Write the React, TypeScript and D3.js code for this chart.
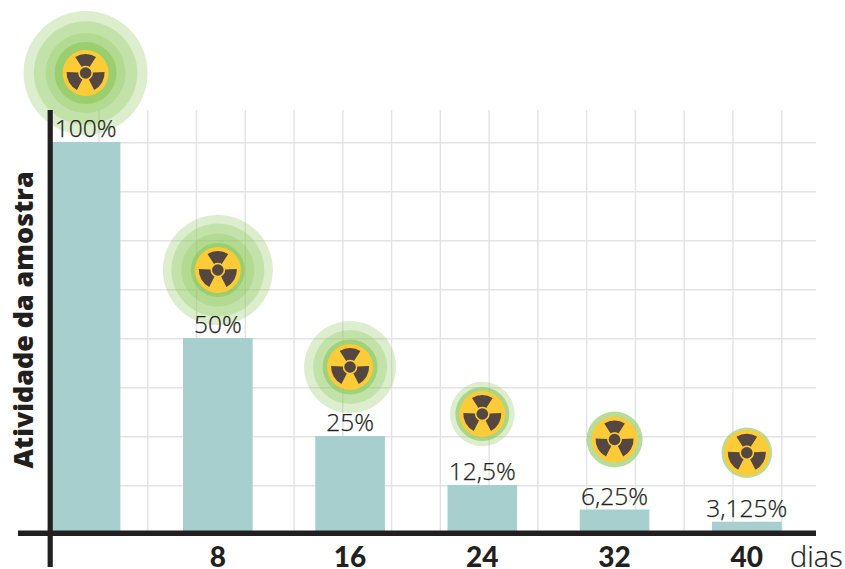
import React from "react";
import * as d3 from "d3";

const days = [0, 8, 16, 24, 32, 40];
const activity = [100, 50, 25, 12.5, 6.25, 3.125];
const valueLabels = ["100%", "50%", "25%", "12,5%", "6,25%", "3,125%"];
const dayLabels = ["", "8", "16", "24", "32", "40"];
const glowLift = [69, 68, 69, 71, 70, 69];
const glowRings = [
  [62, 51.7, 40, 31],
  [55, 46.5, 36.5, 27],
  [46, 37, 27.5],
  [32.3, 27],
  [28],
  [25.3],
];
const gridValues = d3.range(1, 9).map((k) => k * 12.5);
const gridDays = d3.range(0, 15);

const W = 845;
const H = 569;
const x = d3.scaleLinear().domain([0, 40]).range([85.6, 746.8]);
const y = d3.scaleLinear().domain([0, 100]).range([534, 142]);
const gx = d3.scaleLinear().domain([0, 14]).range([99, 781.7]);
const BAR_W = 69.6;
const INK = "#231f20";
const LIGHT = "'Open Sans', Lato, sans-serif";
const HEAVY = "Lato, 'Open Sans', sans-serif";

const blade = d3.arc<any>().innerRadius(7.2).outerRadius(19);
const bladeAngles = [0, 120, 240];

function Trefoil({ cx, cy }: { cx: number; cy: number }) {
  return (
    <g transform={`translate(${cx},${cy})`}>
      <circle r={23} fill="#fecb38" />
      {bladeAngles.map((a) => {
        const r = (a * Math.PI) / 180;
        const half = (33 * Math.PI) / 180;
        return (
          <path
            key={a}
            d={blade({ startAngle: r - half, endAngle: r + half }) as string}
            fill="#55463f"
          />
        );
      })}
      <circle r={7} fill="#fecb38" />
      <circle r={5.8} fill="#55463f" />
    </g>
  );
}

export default function App() {
  return (
    <svg
      width={W}
      height={H}
      viewBox={`0 0 ${W} ${H}`}
      style={{ position: "absolute", left: 0, top: 0, display: "block", background: "#fff" }}
    >
      <g stroke="#e4e3e4" strokeWidth={1.4}>
        {gridValues.map((v) => (
          <line key={v} x1={50} x2={816} y1={y(v) + 0.8} y2={y(v) + 0.8} />
        ))}
        {gridDays.map((k) => (
          <line key={k} x1={gx(k)} x2={gx(k)} y1={110} y2={531} />
        ))}
      </g>

      {activity.map((v, i) => (
        <g key={i}>
          {glowRings[i].map((r, j) => (
            <circle
              key={r}
              cx={x(days[i])}
              cy={y(v) - glowLift[i]}
              r={r}
              fill="#8cc65a"
              fillOpacity={j === glowRings[i].length - 1 ? 0.62 : 0.3}
            />
          ))}
          <Trefoil cx={x(days[i])} cy={y(v) - glowLift[i]} />
        </g>
      ))}

      {activity.map((v, i) => (
        <rect
          key={i}
          x={x(days[i]) - BAR_W / 2}
          y={y(v)}
          width={BAR_W}
          height={y(0) - y(v)}
          fill="#a6cfcd"
        />
      ))}

      <line x1={18} x2={816} y1={533.2} y2={533.2} stroke={INK} strokeWidth={5.4} />
      <line x1={50.2} x2={50.2} y1={110} y2={567} stroke={INK} strokeWidth={5.2} />

      {activity.map((v, i) => (
        <text
          key={i}
          x={x(days[i])}
          y={y(v) - 5}
          textAnchor="middle"
          fontFamily={LIGHT}
          fontWeight={300}
          fontSize={24.5}
          fill={INK}
          stroke={INK}
          strokeWidth={0.25}
        >
          {valueLabels[i]}
        </text>
      ))}

      {days.map((d, i) => (
        <text
          key={d}
          x={x(d)}
          y={566.5}
          textAnchor="middle"
          fontFamily={HEAVY}
          fontWeight={900}
          fontSize={28}
          fill={INK}
        >
          {dayLabels[i]}
        </text>
      ))}

      <text x={790} y={566.5} fontFamily={LIGHT} fontWeight={300} fontSize={29} fill={INK} stroke={INK} strokeWidth={0.2}>
        dias
      </text>

      <text
        transform="translate(32.5,320) rotate(-90)"
        textAnchor="middle"
        fontFamily="'Open Sans', Lato, sans-serif"
        fontWeight={800}
        fontSize={26.8}
        fill={INK}
      >
        Atividade da amostra
      </text>
    </svg>
  );
}
